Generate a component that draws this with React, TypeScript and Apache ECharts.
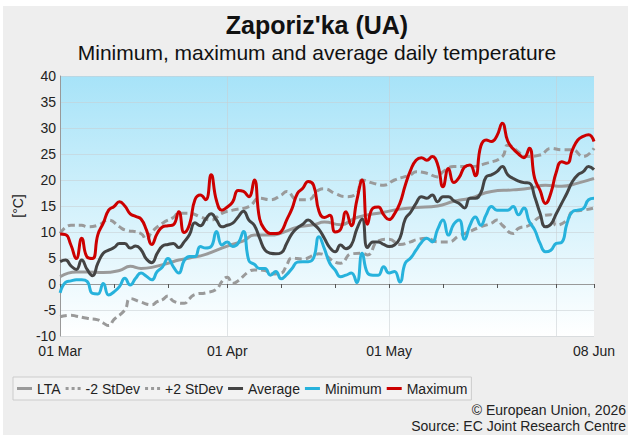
import React, { useEffect, useRef } from "react";
import * as echarts from "echarts";

// Categories: daily dates 01 Mar .. 08 Jun
const MONTHS = ["Jan", "Feb", "Mar", "Apr", "May", "Jun", "Jul", "Aug", "Sep", "Oct", "Nov", "Dec"];
const dates: string[] = [];
{
  const d = new Date(Date.UTC(2026, 2, 1));
  for (let i = 0; i < 100; i++) {
    const dd = String(d.getUTCDate()).padStart(2, "0");
    dates.push(dd + " " + MONTHS[d.getUTCMonth()]);
    d.setUTCDate(d.getUTCDate() + 1);
  }
}
const tickDays = [0, 10, 20, 31, 41, 51, 61, 71, 81, 92, 99];
const labelDays = [0, 31, 61, 99];
const monthDays = [31, 61, 92];
const yTicks = { min: -10, max: 40, step: 5 };

// Long-term average and +/- 2 standard deviations: [dayIndex, value]
const lta: [number, number][] = [[0,1.4],[3,2.3],[5,2.3],[8,2.2],[11,2.6],[13,3.4],[15,3.0],[17,3.2],[20,4.0],[22,4.6],[24,5.0],[27,5.7],[31,7.3],[34,8.3],[36,9.4],[39,9.4],[41,9.8],[44,10.9],[47,11.4],[49,11.9],[52,11.4],[55,12.8],[60,13.8],[63,14.4],[66,14.7],[70,15.0],[73,15.9],[76,16.5],[80,17.8],[84,18.1],[87,18.4],[90,19.0],[93,18.8],[96,19.4],[99,20.3]];
const minus2: [number, number][] = [[0,-6.3],[2,-6.0],[3,-6.2],[5,-6.6],[7,-6.9],[8,-7.5],[9,-8.0],[10,-6.8],[12,-5.0],[13,-2.8],[15,-3.5],[17,-4.0],[18,-3.4],[19,-3.0],[20,-2.3],[21,-3.3],[23,-3.7],[24,-2.8],[25,-2.0],[27,-1.7],[29,-1.0],[30,0.5],[31,1.3],[32,0.1],[33,0.6],[35,2.4],[36,2.7],[38,2.6],[39,1.9],[41,2.1],[42,3.6],[43,5.0],[45,4.8],[47,5.5],[48,5.8],[49,5.6],[51,4.2],[52,4.0],[54,5.8],[56,5.9],[57,5.6],[59,8.3],[61,8.6],[63,7.6],[65,8.1],[66,8.5],[68,8.8],[70,8.1],[72,8.1],[74,9.3],[75,9.7],[78,11.0],[80,11.7],[81,12.3],[82,11.3],[84,9.7],[85,10.7],[87,11.3],[89,12.9],[91,13.3],[92,11.3],[94,12.3],[95,13.9],[97,14.2],[99,14.6]];
const plus2: [number, number][] = [[0,9.7],[2,11.3],[4,11.3],[5,11.0],[7,11.3],[9,12.3],[11,11.0],[12,10.4],[15,9.7],[16,8.5],[17,10.0],[19,11.7],[21,12.8],[22,13.6],[24,13.6],[26,12.9],[28,12.3],[30,13.6],[32,14.2],[35,14.9],[37,16.5],[39,16.2],[41,17.1],[42,17.8],[44,16.2],[46,16.2],[48,18.1],[49,18.3],[51,17.4],[53,16.8],[55,17.4],[56,20.0],[58,19.4],[60,19.0],[62,20.0],[65,21.0],[66,21.6],[68,21.3],[70,20.6],[71,21.6],[73,22.6],[76,22.6],[79,23.2],[82,24.5],[83,26.7],[85,25.4],[86,24.5],[89,24.8],[91,26.1],[93,25.8],[95,25.8],[97,24.5],[99,26.1]];

// Daily observed values (one per date)
const average: number[] = [4.3,4.6,3.5,2.8,4.6,2.8,1.6,4.0,5.9,6.5,7.0,7.8,7.8,6.9,7.3,6.6,4.8,4.1,5.9,7.3,7.6,7.8,7.0,8.1,9.5,11.8,11.2,12.5,13.5,12.3,11.0,11.3,11.7,12.9,14.0,12.3,11.3,8.8,6.5,5.9,5.8,6.0,7.8,9.7,10.8,11.5,12.3,11.5,10.5,8.8,7.0,6.2,7.5,6.8,7.5,10.5,12.5,7.0,8.1,8.1,7.6,7.2,7.5,8.8,12.5,13.8,15.5,16.8,16.5,17.1,15.8,16.8,16.8,16.0,15.5,14.6,16.5,16.5,17.5,20.6,21.0,21.6,22.6,21.0,20.3,19.8,19.5,19.4,16.8,13.6,11.0,11.5,13.5,15.5,17.5,19.7,21.0,21.6,22.6,22.0];
const minimum: number[] = [-1.7,0.3,0.6,0.8,0.8,0.5,-1.8,-1.9,0.1,-2.1,-1.5,-0.5,1.1,-0.2,1.1,2.1,1.5,0.8,2.4,3.3,4.9,3.3,2.1,4.5,5.3,5.3,7.2,6.9,7.2,10.1,7.5,8.1,7.2,7.8,10.1,4.5,3.8,3.0,3.0,1.7,2.4,1.0,1.8,3.0,4.2,4.3,4.3,5.0,9.1,6.8,4.0,2.7,1.4,1.7,2.1,0.3,5.9,2.1,1.7,1.7,3.3,2.1,2.4,0.4,4.0,5.0,6.5,8.0,8.8,8.1,10.5,12.3,9.4,11.5,12.3,8.6,11.3,12.9,11.3,13.3,14.9,14.2,14.2,14.2,14.9,13.3,14.6,12.0,10.4,7.8,6.2,6.5,7.8,8.0,11.7,13.9,14.2,14.5,16.2,16.5];
const maximum: number[] = [9.6,9.5,7.5,4.9,8.8,5.2,4.9,9.5,11.7,14.2,14.9,15.8,15.0,13.5,13.0,12.5,10.4,7.6,9.7,11.0,11.2,11.4,13.9,9.9,11.5,16.2,17.1,16.2,21.0,16.0,14.2,14.8,15.8,18.0,17.8,16.8,20.0,12.5,10.4,9.7,9.7,10.1,12.3,14.5,17.4,18.4,19.7,19.0,14.0,12.8,13.2,10.0,10.5,13.9,11.2,16.0,20.0,11.5,14.6,14.8,13.3,12.4,13.5,15.5,19.0,21.9,23.8,24.3,23.8,24.5,23.0,18.7,22.2,19.5,20.5,22.5,22.9,20.8,26.5,27.7,27.4,28.5,30.9,27.5,26.0,25.0,24.3,26.1,20.3,18.0,15.5,17.5,21.5,23.5,23.2,25.8,27.7,28.4,28.7,27.4];

const FONT = "'Liberation Sans', Arial, Helvetica, sans-serif";
const GRAY = "#9a9a9a";
const SOLID_ICON = "path://M0,0H15V3H0Z";
const DOT_ICON = "path://M0,0H3V3H0Z M6,0H9V3H6Z M12,0H15V3H12Z";

export default function App() {
  const ref = useRef<HTMLDivElement>(null);
  useEffect(() => {
    if (!ref.current) return;
    const chart = echarts.init(ref.current, null, { renderer: "svg" });
    const lineBase = { type: "line" as const, smooth: true, symbol: "none", showSymbol: false };
    chart.setOption({
      animation: false,
      backgroundColor: "#eeeeee",
      textStyle: { fontFamily: FONT },
      grid: {
        left: 47,
        top: 70,
        width: 544,
        height: 260,
        show: true,
        borderWidth: 0,
        backgroundColor: new echarts.graphic.LinearGradient(0, 0, 0, 1, [
          { offset: 0, color: "#a7e3f8" },
          { offset: 1, color: "#ffffff" },
        ]),
      },
      graphic: [
        {
          type: "text",
          x: 314,
          y: 19,
          style: {
            text: "Zaporiz'ka (UA)",
            fontSize: 25,
            fontWeight: "bold",
            fontFamily: FONT,
            fill: "#111",
            textAlign: "center",
            textVerticalAlign: "middle",
          },
        },
        {
          type: "text",
          x: 314,
          y: 46,
          style: {
            text: "Minimum, maximum and average daily temperature",
            fontSize: 21,
            fontFamily: FONT,
            fill: "#111",
            textAlign: "center",
            textVerticalAlign: "middle",
          },
        },
        {
          type: "text",
          x: 623,
          y: 404,
          style: {
            text: "© European Union, 2026",
            fontSize: 14,
            fontFamily: FONT,
            fill: "#222",
            textAlign: "right",
            textVerticalAlign: "middle",
          },
        },
        {
          type: "text",
          x: 623,
          y: 420,
          style: {
            text: "Source: EC Joint Research Centre",
            fontSize: 14,
            fontFamily: FONT,
            fill: "#222",
            textAlign: "right",
            textVerticalAlign: "middle",
          },
        },
      ],
      legend: {
        left: 10,
        top: 371,
        padding: [4, 4, 4, 4],
        itemWidth: 15,
        itemHeight: 3,
        itemGap: 5,
        borderColor: "#cccccc",
        borderWidth: 1,
        backgroundColor: "#f2f2f2",
        textStyle: { fontSize: 14, color: "#222", fontFamily: FONT, lineHeight: 15 },
        data: [
          { name: "LTA", icon: SOLID_ICON },
          { name: "-2 StDev", icon: DOT_ICON },
          { name: "+2 StDev", icon: DOT_ICON },
          { name: "Average", icon: SOLID_ICON },
          { name: "Minimum", icon: SOLID_ICON },
          { name: "Maximum", icon: SOLID_ICON },
        ],
      },
      xAxis: {
        type: "category",
        data: dates,
        boundaryGap: false,
        axisLine: { show: true, lineStyle: { color: "#999", width: 1 } },
        axisTick: {
          show: true,
          length: 4,
          interval: (i: number) => tickDays.includes(i),
          lineStyle: { color: "#555" },
        },
        axisLabel: {
          interval: (i: number) => labelDays.includes(i),
          fontSize: 14,
          lineHeight: 14,
          color: "#222",
          margin: 8,
          fontFamily: FONT,
        },
        splitLine: {
          show: true,
          interval: (i: number) => monthDays.includes(i),
          lineStyle: { color: "rgba(200,205,210,0.55)", width: 1 },
        },
      },
      yAxis: {
        type: "value",
        min: yTicks.min,
        max: yTicks.max,
        interval: yTicks.step,
        name: "[°C]",
        nameLocation: "middle",
        nameGap: 31,
        nameTextStyle: { fontSize: 14, color: "#222", fontFamily: FONT },
        axisLine: { show: true, lineStyle: { color: "#999", width: 1 } },
        axisTick: { show: false },
        axisLabel: { fontSize: 14, lineHeight: 14, color: "#222", margin: 4, fontFamily: FONT },
        splitLine: { show: true, lineStyle: { color: "rgba(200,205,210,0.55)", width: 1 } },
      },
      series: [
        { ...lineBase, name: "LTA", data: lta, color: GRAY, lineStyle: { color: GRAY, width: 3 } },
        { ...lineBase, name: "-2 StDev", data: minus2, color: GRAY, lineStyle: { color: GRAY, width: 3, type: [7, 4] } },
        { ...lineBase, name: "+2 StDev", data: plus2, color: GRAY, lineStyle: { color: GRAY, width: 3, type: [7, 4] } },
        { ...lineBase, name: "Average", data: average, color: "#444444", lineStyle: { color: "#444444", width: 3 } },
        { ...lineBase, name: "Minimum", data: minimum, color: "#27b2dc", lineStyle: { color: "#27b2dc", width: 3 } },
        { ...lineBase, name: "Maximum", data: maximum, color: "#cc0000", lineStyle: { color: "#cc0000", width: 3 } },
      ],
    });
    return () => chart.dispose();
  }, []);
  return (
    <div
      style={{
        position: "fixed",
        left: 0,
        top: 0,
        width: 628,
        height: 435,
        background: "#ffffff",
        overflow: "hidden",
      }}
    >
      <div
        ref={ref}
        style={{ position: "absolute", left: 3, top: 6, width: 625, height: 429, background: "#eeeeee" }}
      />
    </div>
  );
}
